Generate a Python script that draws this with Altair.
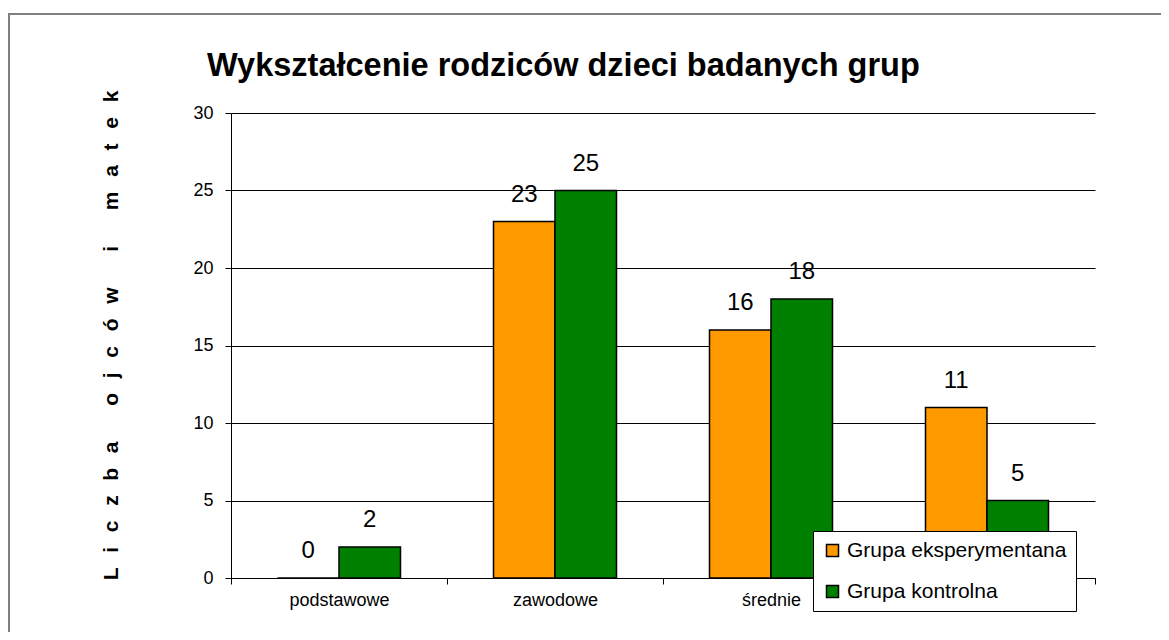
import altair as alt
import pandas as pd

categories = ["podstawowe", "zawodowe", "średnie", "wyższe"]
groups = ["Grupa eksperymentana", "Grupa kontrolna"]
eksperymentalna = [0, 23, 16, 11]
kontrolna = [2, 25, 18, 5]
colors = ["#FF9900", "#008000"]
y_ticks = [0, 5, 10, 15, 20, 25, 30]

rows = []
for c, a, b in zip(categories, eksperymentalna, kontrolna):
    rows.append({"kat": c, "grupa": groups[0], "v": a})
    rows.append({"kat": c, "grupa": groups[1], "v": b})
df = pd.DataFrame(rows)

FONT = "Liberation Sans"
letter_sep = "\u2002\u2009"
word_sep = "\u2003\u2002\u2009"
words = ["Liczba", "ojców", "i", "matek"]
ytitle = word_sep.join(letter_sep.join(list(w)) for w in words)

x_enc = alt.X("kat:N", sort=categories, title=None,
              scale=alt.Scale(paddingInner=0, paddingOuter=0),
              axis=alt.Axis(labelAngle=0, labelFontSize=18, labelFont=FONT, labelColor="black",
                            tickBand="extent", tickSize=6, tickColor="black", domainColor="black",
                            labelPadding=7, grid=False))
y_enc = alt.Y("v:Q", scale=alt.Scale(domain=[0, 30], nice=False),
              axis=alt.Axis(values=y_ticks, title=ytitle, titleFont=FONT, titleFontSize=21,
                            titleFontWeight="bold", titleColor="black", titleAngle=270,
                            titleAlign="center", titleBaseline="alphabetic", titleX=-114, titleY=222,
                            labelFontSize=18, labelFont=FONT, labelColor="black",
                            tickSize=6, tickColor="black", labelPadding=12,
                            domainColor="black", gridColor="black", gridOpacity=1, grid=True))
xoff = alt.XOffset("grupa:N", sort=groups, scale=alt.Scale(paddingInner=0, paddingOuter=0.756))

border = alt.Chart(alt.Data(values=[{}])).mark_rect(
    fill="white", fillOpacity=0, stroke="#808080", strokeWidth=2
).encode(x=alt.value(-222), x2=alt.value(1200), y=alt.value(-99), y2=alt.value(700))

bars = alt.Chart(df).mark_bar(stroke="black", strokeWidth=1.5).encode(
    x=x_enc, y=y_enc, xOffset=xoff,
    color=alt.Color("grupa:N", sort=groups, scale=alt.Scale(domain=groups, range=colors),
                    legend=alt.Legend(title=None, orient="none", legendX=582, legendY=418,
                                      symbolType="square", symbolSize=144, symbolStrokeColor="black",
                                      symbolStrokeWidth=1.5, labelFontSize=21, labelFont=FONT,
                                      labelColor="black", labelOffset=4, rowPadding=19,
                                      padding=9, fillColor="white", strokeColor="black",
                                      labelLimit=400)),
)

labels = alt.Chart(df).mark_text(fontSize=24, font=FONT, baseline="alphabetic", dy=-20, color="black").encode(
    x=alt.X("kat:N", sort=categories), y=alt.Y("v:Q"), xOffset=alt.XOffset("grupa:N", sort=groups),
    text=alt.Text("v:Q"),
)

chart = alt.layer(border, bars, labels).properties(
    width=864, height=465,
    autosize=alt.AutoSizeParams(type="none"),
    padding={"left": 223, "top": 105, "right": 66, "bottom": 54},
    title=alt.TitleParams("Wykształcenie rodziców dzieci badanych grup", font=FONT, fontSize=32.5,
                          fontWeight="bold", color="black", anchor="start", frame="group", dx=-24,
                          baseline="alphabetic", offset=-95),
).configure_view(stroke=None)

chart.save("out.html", embed_options={"renderer": "svg", "actions": False})
